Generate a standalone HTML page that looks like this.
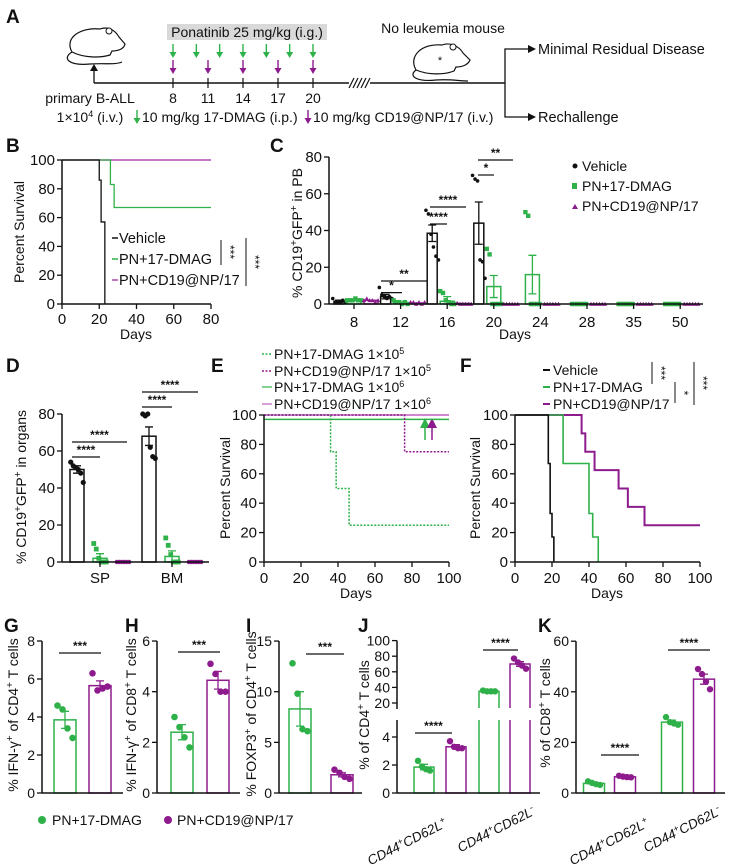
<!DOCTYPE html>
<html><head><meta charset="utf-8"><style>
html,body{margin:0;padding:0;background:#fff;}
svg{display:block;font-family:"Liberation Sans",Arial,sans-serif;}
text{fill:#111;}
.pl{font-weight:bold;font-size:19px;}
.t{font-size:14px;}
.s{font-size:14px;}
</style></head><body>
<svg id="fig" width="731" height="865" viewBox="0 0 731 865" xmlns="http://www.w3.org/2000/svg">
<!-- Panel A -->
<g>
<text class="pl" x="6" y="23">A</text>
<path d="M72,52 C64,38 80,27 100,29 C108,26 115,30 119,37 L125,44 C124,49 118,51 112,51 L110,55 C100,58 84,58 72,52 Z" fill="#fff" stroke="#111" stroke-width="1.2"/>
<path d="M72,52 C62,58 68,66 90,64 C105,63 115,65 122,62" fill="none" stroke="#111" stroke-width="1.2"/>
<circle cx="109" cy="31" r="3" fill="#fff" stroke="#111" stroke-width="1"/>
<line x1="94" y1="83" x2="94" y2="70" stroke="#111" stroke-width="1.3"/>
<polygon points="90,71 98,71 94,64" fill="#111"/>
<line x1="94" y1="83" x2="349" y2="83" stroke="#111" stroke-width="1.4"/>
<line x1="370" y1="83" x2="505" y2="83" stroke="#111" stroke-width="1.4"/>
<g stroke="#111" stroke-width="1.2"><line x1="349" y1="88" x2="354" y2="78"/><line x1="353" y1="88" x2="358" y2="78"/><line x1="357" y1="88" x2="362" y2="78"/><line x1="361" y1="88" x2="366" y2="78"/><line x1="365" y1="88" x2="370" y2="78"/></g>
<rect x="167" y="24" width="160" height="16" fill="#d9d9d9"/>
<text class="s" x="247" y="37" text-anchor="middle">Ponatinib 25 mg/kg (i.g.)</text>
<g id="arrowsA"></g>
<text class="s" x="90" y="103" text-anchor="middle">primary B-ALL</text>
<text class="s" x="90" y="122" text-anchor="middle">1×10<tspan dy="-5" font-size="9">4</tspan><tspan dy="5"> (i.v.)</tspan></text>
<text class="s" x="142" y="122">10 mg/kg 17-DMAG (i.p.)</text>
<text class="s" x="313" y="122">10 mg/kg CD19@NP/17 (i.v.)</text>
<text class="s" x="443" y="33" text-anchor="middle">No leukemia mouse</text>
<path d="M416,70 C408,56 422,43 442,45 C450,42 459,46 463,53 L470,60 C468,65 462,67 456,67 L454,71 C444,75 428,75 416,70 Z" fill="#fff" stroke="#111" stroke-width="1.2"/>
<path d="M416,70 C408,76 416,82 436,80 C450,79 460,81 468,81" fill="none" stroke="#111" stroke-width="1.2"/>
<circle cx="453" cy="47" r="3" fill="#fff" stroke="#111" stroke-width="1"/>
<text x="440" y="64" font-size="11" text-anchor="middle">*</text>
<polyline points="505,83 505,49 530,49" fill="none" stroke="#111" stroke-width="1.3"/>
<polyline points="505,83 505,117 530,117" fill="none" stroke="#111" stroke-width="1.3"/>
<polygon points="528,45 536,49 528,53" fill="#111"/>
<polygon points="528,113 536,117 528,121" fill="#111"/>
<text x="538" y="54" font-size="14.5">Minimal Residual Disease</text>
<text x="538" y="122" font-size="14.5">Rechallenge</text>
</g>
<!-- panel labels -->
<text class="pl" x="6" y="152">B</text>
<text class="pl" x="270" y="152">C</text>
<text class="pl" x="6" y="372">D</text>
<text class="pl" x="211" y="372">E</text>
<text class="pl" x="460" y="372">F</text>
<text class="pl" x="4" y="632">G</text>
<text class="pl" x="125" y="632">H</text>
<text class="pl" x="246" y="632">I</text>
<text class="pl" x="358" y="632">J</text>
<text class="pl" x="538" y="632">K</text>
<!-- axis titles -->
<text class="t" font-size="15" transform="translate(24,232) rotate(-90)" text-anchor="middle">Percent Survival</text>
<text class="t" x="136" y="339" text-anchor="middle">Days</text>
<text class="t" transform="translate(302,233) rotate(-90)" text-anchor="middle">% CD19<tspan dy="-5" font-size="10">+</tspan><tspan dy="5">GFP</tspan><tspan dy="-5" font-size="10">+</tspan><tspan dy="5"> in PB</tspan></text>
<text class="t" x="515" y="339" text-anchor="middle">Days</text>
<text class="t" transform="translate(26,487) rotate(-90)" text-anchor="middle">% CD19<tspan dy="-5" font-size="10">+</tspan><tspan dy="5">GFP</tspan><tspan dy="-5" font-size="10">+</tspan><tspan dy="5"> in organs</tspan></text>
<text class="t" font-size="15" transform="translate(230,488) rotate(-90)" text-anchor="middle">Percent Survival</text>
<text class="t" x="356" y="598" text-anchor="middle">Days</text>
<text class="t" font-size="15" transform="translate(480,488) rotate(-90)" text-anchor="middle">Percent Survival</text>
<text class="t" x="607" y="598" text-anchor="middle">Days</text>
<text class="t" transform="translate(18,715) rotate(-90)" text-anchor="middle">% IFN-γ<tspan dy="-5" font-size="10">+</tspan><tspan dy="5"> of CD4</tspan><tspan dy="-5" font-size="10">+</tspan><tspan dy="5"> T cells</tspan></text>
<text class="t" transform="translate(136,715) rotate(-90)" text-anchor="middle">% IFN-γ<tspan dy="-5" font-size="10">+</tspan><tspan dy="5"> of CD8</tspan><tspan dy="-5" font-size="10">+</tspan><tspan dy="5"> T cells</tspan></text>
<text class="t" transform="translate(256,714) rotate(-90)" text-anchor="middle">% FOXP3<tspan dy="-5" font-size="10">+</tspan><tspan dy="5"> of CD4</tspan><tspan dy="-5" font-size="10">+</tspan><tspan dy="5"> T cells</tspan></text>
<text class="t" transform="translate(369,715) rotate(-90)" text-anchor="middle">% of CD4<tspan dy="-5" font-size="10">+</tspan><tspan dy="5"> T cells</tspan></text>
<text class="t" transform="translate(550,713) rotate(-90)" text-anchor="middle">% of CD8<tspan dy="-5" font-size="10">+</tspan><tspan dy="5"> T cells</tspan></text>
<!-- category labels J/K -->
<g font-style="italic" font-size="13.5">
<text transform="translate(448,826) rotate(-27)" text-anchor="end">CD44<tspan dy="-5" font-size="9">+</tspan><tspan dy="5">CD62L</tspan><tspan dy="-5" font-size="9">+</tspan></text>
<text transform="translate(536,814) rotate(-27)" text-anchor="end">CD44<tspan dy="-5" font-size="9">+</tspan><tspan dy="5">CD62L</tspan><tspan dy="-5" font-size="9">-</tspan></text>
<text transform="translate(650,826) rotate(-27)" text-anchor="end">CD44<tspan dy="-5" font-size="9">+</tspan><tspan dy="5">CD62L</tspan><tspan dy="-5" font-size="9">+</tspan></text>
<text transform="translate(722,814) rotate(-27)" text-anchor="end">CD44<tspan dy="-5" font-size="9">+</tspan><tspan dy="5">CD62L</tspan><tspan dy="-5" font-size="9">-</tspan></text>
</g>
<!-- bottom legend -->
<circle cx="42" cy="820" r="4" fill="#2fb14a"/>
<text class="t" x="52" y="825">PN+17-DMAG</text>
<circle cx="168" cy="820" r="4" fill="#8e1b8e"/>
<text class="t" x="177" y="825">PN+CD19@NP/17</text>
<!-- C legend -->
<circle cx="575" cy="166" r="2.5" fill="#111"/>
<text class="t" x="582" y="171">Vehicle</text>
<rect x="572" y="183" width="5" height="6" fill="#2fb14a"/>
<text class="t" x="582" y="191">PN+17-DMAG</text>
<polygon points="572,209 578,209 575,204" fill="#8e1b8e"/>
<text class="t" x="582" y="211">PN+CD19@NP/17</text>
<!-- B legend -->
<line x1="112" y1="238" x2="118" y2="238" stroke="#111" stroke-width="1.5"/>
<text x="119" y="243" font-size="14.5">Vehicle</text>
<line x1="112" y1="259" x2="118" y2="259" stroke="#2fb14a" stroke-width="1.5"/>
<text x="119" y="264" font-size="14.5">PN+17-DMAG</text>
<line x1="112" y1="280" x2="118" y2="280" stroke="#b04ab0" stroke-width="1.5"/>
<text x="119" y="285" font-size="14.5">PN+CD19@NP/17</text>
<line x1="221" y1="240" x2="221" y2="265" stroke="#111"/>
<text transform="translate(226,252) rotate(90)" font-size="12" text-anchor="middle">***</text>
<line x1="246" y1="238" x2="246" y2="286" stroke="#111"/>
<text transform="translate(251,262) rotate(90)" font-size="12" text-anchor="middle">***</text>
<!-- E legend -->
<line x1="262" y1="354" x2="272" y2="354" stroke="#2fb14a" stroke-width="1.5" stroke-dasharray="2,1.5"/>
<text class="t" x="274" y="359">PN+17-DMAG 1×10<tspan dy="-5" font-size="9">5</tspan></text>
<line x1="262" y1="371" x2="272" y2="371" stroke="#8e1b8e" stroke-width="1.5" stroke-dasharray="2,1.5"/>
<text class="t" x="274" y="376">PN+CD19@NP/17 1×10<tspan dy="-5" font-size="9">5</tspan></text>
<line x1="262" y1="387" x2="272" y2="387" stroke="#2fb14a" stroke-width="1.2"/>
<text class="t" x="274" y="392">PN+17-DMAG 1×10<tspan dy="-5" font-size="9">6</tspan></text>
<line x1="262" y1="404" x2="272" y2="404" stroke="#c05ec0" stroke-width="1.2"/>
<text class="t" x="274" y="409">PN+CD19@NP/17 1×10<tspan dy="-5" font-size="9">6</tspan></text>
<!-- F legend -->
<line x1="543" y1="370" x2="550" y2="370" stroke="#111" stroke-width="2"/>
<text class="t" x="553" y="375">Vehicle</text>
<line x1="543" y1="387" x2="550" y2="387" stroke="#2fb14a" stroke-width="2"/>
<text class="t" x="553" y="392">PN+17-DMAG</text>
<line x1="543" y1="404" x2="550" y2="404" stroke="#8e1b8e" stroke-width="2"/>
<text class="t" x="553" y="409">PN+CD19@NP/17</text>
<line x1="652" y1="362" x2="652" y2="384" stroke="#111"/>
<text transform="translate(657,373) rotate(90)" font-size="12" text-anchor="middle">***</text>
<line x1="675" y1="382" x2="675" y2="403" stroke="#111"/>
<text transform="translate(680,393) rotate(90)" font-size="12" text-anchor="middle">*</text>
<line x1="694" y1="362" x2="694" y2="405" stroke="#111"/>
<text transform="translate(699,383) rotate(90)" font-size="12" text-anchor="middle">***</text>
<!-- E arrows -->
<line x1="425" y1="440" x2="425" y2="425" stroke="#2fb14a" stroke-width="1.5"/>
<polygon points="420,428 430,428 425,418" fill="#2fb14a"/>
<line x1="432" y1="440" x2="432" y2="425" stroke="#8e1b8e" stroke-width="1.5"/>
<polygon points="427,428 437,428 432,418" fill="#8e1b8e"/>
<g id="charts"></g>
</svg>
<script>
const NS='http://www.w3.org/2000/svg';
const GREEN='#2fb14a', PURPLE='#8e1b8e', BLACK='#111';
const root=document.getElementById('charts');
function mk(tag,attrs,parent){const e=document.createElementNS(NS,tag);for(const k in attrs)e.setAttribute(k,attrs[k]);(parent||root).appendChild(e);return e;}

// ---------- Panel A data ----------
const dmagDoseDays=[8,9,10,12,13,15,16];
const npDoseDays=[8,11,14,17,20];
const timelineTicks=[8,11,14,17,20];
const xA=d=>173+(d-8)*(313-173)/12;
const xAG=i=>173+i*(313-173)/6;
const arrowsA=document.getElementById('arrowsA');
function arrow(x,y1,y2,col,name){
  const l=mk('line',{x1:x,y1:y1,x2:x,y2:y2-4,stroke:col,'stroke-width':1.4},arrowsA);
  
  
  const p=mk('polygon',{points:(x-3.5)+','+(y2-6)+' '+(x+3.5)+','+(y2-6)+' '+x+','+y2,fill:col},arrowsA);
  
  
}
dmagDoseDays.forEach((d,i)=>arrow(xAG(i),44,58,GREEN,'dmag-dose-arrow'));
npDoseDays.forEach(d=>arrow(xA(d),60,74,PURPLE,'np-dose-arrow'));
arrow(137,110,124,GREEN,'dmag-key-arrow');
arrow(308,110,124,PURPLE,'np-key-arrow');
timelineTicks.forEach(d=>{
  const l=mk('line',{x1:xA(d),y1:78,x2:xA(d),y2:88,stroke:BLACK,'stroke-width':1.2},arrowsA);
  
  
  const t=mk('text',{x:xA(d),y:103,'text-anchor':'middle','font-size':'14'},arrowsA);
  t.textContent=d;
  
  
});

// ---------- generic axis helpers ----------
function yAxis(x,top,bottom,ticks,scale,name,fs){
  const l=mk('line',{x1:x,y1:top,x2:x,y2:bottom,stroke:BLACK,'stroke-width':1.5});
  
  
  ticks.forEach(v=>{
    const y=scale(v);
    const tk=mk('line',{x1:x-5,y1:y,x2:x,y2:y,stroke:BLACK,'stroke-width':1.3});
    
    
    const t=mk('text',{x:x-7,y:y+5,'text-anchor':'end','font-size':fs||14});
    t.textContent=v;
    
    
  });
}
function xAxis(y,x0,x1,ticks,scale,labels,name,ly,fs){
  const l=mk('line',{x1:x0,y1:y,x2:x1,y2:y,stroke:BLACK,'stroke-width':1.5});
  
  
  ticks.forEach((v,i)=>{
    const x=scale(v,i);
    const tk=mk('line',{x1:x,y1:y,x2:x,y2:y+5,stroke:BLACK,'stroke-width':1.3});
    
    
    if(labels){
      const t=mk('text',{x:x,y:ly||y+20,'text-anchor':'middle','font-size':fs||14});
      t.textContent=labels[i];
      
      
    }
  });
}
function survival(steps,end,xs,ys,col,w,dash,name){
  let d='M'+xs(steps[0][0])+','+ys(steps[0][1]);
  for(let i=1;i<steps.length;i++){d+=' H'+xs(steps[i][0])+' V'+ys(steps[i][1]);}
  d+=' H'+xs(end);
  const p=mk('path',{d:d,fill:'none',stroke:col,'stroke-width':w});
  if(dash)p.setAttribute('stroke-dasharray',dash);
  
  
}
function sig(x1,x2,y,label,name){
  const l=mk('line',{x1:x1,y1:y,x2:x2,y2:y,stroke:BLACK,'stroke-width':1.2});
  
  
  const t=mk('text',{x:(x1+x2)/2,y:y-3,'text-anchor':'middle','font-size':12,'font-weight':'bold'});
  t.textContent=label;
  
  
}
function marker(shape,x,y,col,r,name){
  let e;
  if(shape==='circle')e=mk('circle',{cx:x,cy:y,r:r,fill:col});
  else if(shape==='square')e=mk('rect',{x:x-r,y:y-r,width:2*r,height:2*r,fill:col});
  else e=mk('polygon',{points:(x-r)+','+(y+r*0.8)+' '+(x+r)+','+(y+r*0.8)+' '+x+','+(y-r),fill:col});
  
  
}
function bar(cx,w,mean,err,pts,scale,base,col,shape,r,name,fillW){
  if(mean==null)return;
  const y=scale(mean);
  const b=mk('rect',{x:cx-w/2,y:Math.min(y,base),width:w,height:Math.abs(base-y),fill:'#fff',stroke:col,'stroke-width':1.5});
  
  
  pts.forEach((v,j)=>{const off=(j-(pts.length-1)/2)*(fillW||3.5);marker(shape,cx+off,scale(v),col,r,name+'-point');});
  if(err){
    const e=mk('path',{d:'M'+cx+','+scale(mean+err)+' V'+scale(Math.max(mean-err,0))+' M'+(cx-4)+','+scale(mean+err)+' H'+(cx+4)+' M'+(cx-4)+','+scale(Math.max(mean-err,0))+' H'+(cx+4),stroke:col,'stroke-width':1.3,fill:'none'});
    
    
  }
}

// ---------- Panel B ----------
const bXTicks=[0,20,40,60,80];
const bYTicks=[0,20,40,60,80,100];
const bVehicle=[[0,100],[20,86],[21,57],[23,0]];
const bDmag=[[0,100],[26,83],[28,67]];
const bNp=[[0,100]];
const xB=d=>62+d*1.8625, yB=v=>304-v*1.44;
survival(bNp,80,xB,yB,'#b04ab0',1.5,null,'b-curve-np');
survival(bDmag,80,xB,yB,GREEN,1.3,null,'b-curve-dmag');
survival(bVehicle,23,xB,yB,BLACK,1.3,null,'b-curve-vehicle');
yAxis(62,yB(100),304,bYTicks,yB,'b',15);
xAxis(304,62,211,bXTicks,xB,bXTicks,'b',324,15);

// ---------- Panel C ----------
const cDays=['8','12','16','20','24','28','35','50'];
const cVehMean=[1.5,4,38.5,44,null,null,null,null];
const cVehErr=[0.6,1.2,4.5,11.5,0,0,0,0];
const cVehPts=[[3,1,1,1,2,1],[9,5,4,3,4,3],[51,49,38,31,26,24],[70,68,67,24,23,14],[],[],[],[]];
const cDmagMean=[2,0.8,1.5,9.5,16,0,0,0];
const cDmagErr=[0.3,0.3,2.5,6,10.5,0,0,0];
const cDmagPts=[[2,2,2,3,2,2],[2,1,1,0,1,0],[7,6,2,1,0,0],[30,27,0,0,0,0],[50,48,0,0,0,0],[0,0,0,0,0,0],[0,0,0,0,0,0],[0,0,0,0,0,0]];
const cNpMean=[2,0.5,0.3,0,0,0,0,0];
const cNpPts=[[2,3,2,2,1,2],[1,1,0,1,0,1],[0.5,0,0,0,0,0],[0,0,0,0,0,0],[0,0,0,0,0,0],[0,0,0,0,0,0],[0,0,0,0,0,0],[0,0,0,0,0,0]];
const cYTicks=[0,20,40,60,80];
const yC=v=>304-v*1.8375;
const xC=i=>354+i*46.6;
cDays.forEach((d,i)=>{
  bar(xC(i)-15,10,cVehMean[i],cVehErr[i],cVehPts[i],yC,304,BLACK,'circle',1.8,'c-bar-vehicle-day'+d,2.5);
  bar(xC(i)-(i>3?8:0),14,cDmagMean[i],cDmagErr[i],cDmagPts[i],yC,304,GREEN,'square',2.2,'c-bar-dmag-day'+d,2.8);
  bar(xC(i)+17-(i>3?6:0),14,cNpMean[i],0,cNpPts[i],yC,304,PURPLE,'tri',2.2,'c-bar-np-day'+d,2.8);
});
yAxis(329,yC(80),304,cYTicks,yC,'c',15);
xAxis(304,329,703,cDays,(v,i)=>xC(i),cDays,'c',327,15);
sig(381,402,298-3*1.8,'*','c-sig-12a');sig(381,427,281,'**','c-sig-12b');
sig(430,447,224,'****','c-sig-16a');sig(430,466,207,'****','c-sig-16b');
sig(478,494,175,'*','c-sig-20a');sig(478,513,160,'**','c-sig-20b');

// ---------- Panel D ----------
const dGroups=['SP','BM'];
const dVehMean=[50,68], dVehErr=[2,5];
const dVehPts=[[54,52,51,50,48,43],[80,79,80,62,57,56]];
const dDmagMean=[2,3], dDmagErr=[2.5,3];
const dDmagPts=[[10,7,2,0,0,0],[13,9,4,0,0,0]];
const dNpMean=[0,0];
const dNpPts=[[0,0,0,0,0,0],[0,0,0,0,0,0]];
const dYTicks=[0,20,40,60,80];
const yD=v=>562-v*1.85;
const xD=i=>100+i*72;
dGroups.forEach((g,i)=>{
  bar(xD(i)-23,14,dVehMean[i],dVehErr[i],dVehPts[i],yD,562,BLACK,'circle',2.6,'d-bar-vehicle-'+g,2.5);
  bar(xD(i),14,dDmagMean[i],dDmagErr[i],dDmagPts[i],yD,562,GREEN,'square',2.4,'d-bar-dmag-'+g,2.5);
  bar(xD(i)+23,14,dNpMean[i],0,dNpPts[i],yD,562,PURPLE,'circle',2.2,'d-bar-np-'+g,2.5);
});
yAxis(62,yD(80),562,dYTicks,yD,'d',15);
xAxis(562,62,209,dGroups,(v,i)=>xD(i),dGroups,'d',583,15);
sig(72,100,457,'****','d-sig-sp-a');sig(72,127,442,'****','d-sig-sp-b');
sig(142,172,407,'****','d-sig-bm-a');sig(142,198,392,'****','d-sig-bm-b');

// ---------- Panel E ----------
const survTicks=[0,20,40,60,80,100];
const eDmag1e5=[[0,100],[36,75],[39,50],[46,25]];
const eNp1e5=[[0,100],[76,75]];
const eDmag1e6=[[0,97]];
const eNp1e6=[[0,100]];
const xE=d=>264+d*1.85, ySv=v=>562-v*1.47;
survival(eNp1e6,100,xE,ySv,'#c05ec0',1.5,null,'e-curve-np-1e6');
survival(eDmag1e6,100,xE,ySv,GREEN,1.5,null,'e-curve-dmag-1e6');
survival(eDmag1e5,100,xE,ySv,GREEN,1.5,'2,1.5','e-curve-dmag-1e5');
survival(eNp1e5,100,xE,ySv,PURPLE,1.5,'2,1.5','e-curve-np-1e5');
yAxis(264,ySv(100),562,survTicks,ySv,'e',15);
xAxis(562,264,449,survTicks,xE,survTicks,'e',583,15);

// ---------- Panel F ----------
const fVehicle=[[0,100],[18,67],[19,33],[20,17],[21,0]];
const fDmag=[[0,100],[26,67],[40,33],[42,17],[45,0]];
const fNp=[[0,100],[36,87.5],[38,75],[43,62.5],[56,50],[61,37.5],[70,25]];
const xF=d=>515+d*1.85;
survival(fNp,100,xF,ySv,PURPLE,2,null,'f-curve-np');
survival(fDmag,45,xF,ySv,GREEN,1.6,null,'f-curve-dmag');
survival(fVehicle,21,xF,ySv,BLACK,1.6,null,'f-curve-vehicle');
yAxis(515,ySv(100),562,survTicks,ySv,'f',15);
xAxis(562,515,700,survTicks,xF,survTicks,'f',583,15);

// ---------- Panels G, H, I ----------
const gMeans=[3.85,5.65], gErrs=[0.45,0.25], gPts=[[4.6,4.4,3.4,2.9],[6.3,5.4,5.5,5.6]];
const hMeans=[2.4,4.45], hErrs=[0.3,0.35], hPts=[[3.0,2.6,2.2,1.8],[5.1,4.7,4.0,4.0]];
const iMeans=[8.3,1.8], iErrs=[1.7,0.2], iPts=[[12.8,9.8,6.3,6.1],[2.3,2.0,1.6,1.4]];
const gTicks=[0,2,4,6,8], hTicks=[0,2,4,6], iTicks=[0,5,10,15];
const yG=v=>793-v*19, yH=v=>793-v*25.33, yI=v=>793-v*10.13;
const cols=[GREEN,PURPLE], grpNames=['dmag','np'];
function twoBar(ax,centers,means,errs,pts,scale,ticks,end,name){
  means.forEach((m,i)=>bar(centers[i],22,m,errs[i],pts[i],scale,793,cols[i],'circle',3.3,name+'-bar-'+grpNames[i],5));
  yAxis(ax,scale(ticks[ticks.length-1]),793,ticks,scale,name);
  xAxis(793,ax,end,[],null,null,name);
}
twoBar(42,[65,100],gMeans,gErrs,gPts,yG,gTicks,123,'g');
twoBar(157,[182,218],hMeans,hErrs,hPts,yH,hTicks,240,'h');
twoBar(279,[300,342],iMeans,iErrs,iPts,yI,iTicks,362,'i');
sig(59,101,653,'***','g-sig');
sig(178,220,652,'***','h-sig');
sig(306,344,654,'***','i-sig');

// ---------- Panel J ----------
const jGroups=['CD44+CD62L+','CD44+CD62L-'];
const jMeans=[[1.85,3.3],[35,70]];
const jErrs=[[0.2,0.15],[0.5,3]];
const jPts=[[[2.3,1.9,1.7,1.6],[3.7,3.3,3.2,3.2]],[[36,35,35,35],[77,72,68,64]]];
const jLowTicks=[0,2,4], jHighTicks=[20,40,60,80,100];
const yJ=v=>v<=5?793-v*14:703-(v-20)*0.78;
const jCenters=[[424,456],[489,520]];
jGroups.forEach((g,gi)=>{
  [0,1].forEach(i=>bar(jCenters[gi][i],20,jMeans[gi][i],jErrs[gi][i],jPts[gi][i],yJ,793,cols[i],'circle',3.2,'j-bar-'+grpNames[i]+'-'+gi,4));
});
const brk=mk('rect',{x:470,y:708,width:70,height:12,fill:'#fff'});


yAxis(397,yJ(100),709,jHighTicks,yJ,'j-upper');
yAxis(397,720,793,jLowTicks,yJ,'j-lower');
xAxis(793,397,540,[],null,null,'j');
sig(415,452,733,'****','j-sig-1');
sig(483,518,650,'****','j-sig-2');

// ---------- Panel K ----------
const kMeans=[[3.8,6.4],[28,45]];
const kErrs=[[0.3,0.2],[0.8,2]];
const kPts=[[[4.6,4.0,3.5,3.2],[6.8,6.5,6.3,6.2]],[[30,28,27.5,27],[49,47,44,41]]];
const kTicks=[0,20,40,60];
const yK=v=>793-v*2.53;
const kCenters=[[594,625],[672,704]];
kMeans.forEach((gm,gi)=>{
  [0,1].forEach(i=>bar(kCenters[gi][i],21,gm[i],kErrs[gi][i],kPts[gi][i],yK,793,cols[i],'circle',3.2,'k-bar-'+grpNames[i]+'-'+gi,4));
});
yAxis(576,yK(60),793,kTicks,yK,'k');
xAxis(793,576,725,[],null,null,'k');
sig(601,639,755,'****','k-sig-1');
sig(668,710,650,'****','k-sig-2');
</script>
</body></html>
